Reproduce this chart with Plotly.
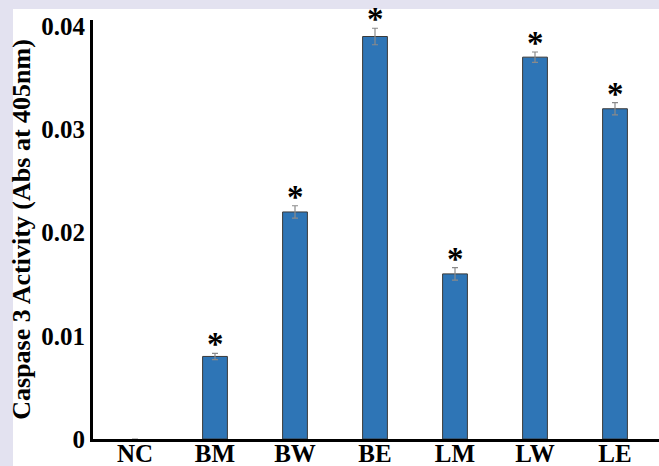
import plotly.graph_objects as go

# Caspase 3 activity per treatment group
groups = ["NC", "BM", "BW", "BE", "LM", "LW", "LE"]
activity = [0.0, 0.008, 0.022, 0.039, 0.016, 0.037, 0.032]
activity_err = [0.0, 0.0003, 0.0006, 0.0008, 0.0006, 0.0005, 0.0006]
significant = [False, True, True, True, True, True, True]
y_ticks = [0, 0.01, 0.02, 0.03, 0.04]
y_tick_text = ["0", "0.01", "0.02", "0.03", "0.04"]

FONT = "Liberation Serif"

fig = go.Figure()
fig.add_trace(go.Bar(
    x=groups,
    y=activity,
    width=0.31,
    marker=dict(color="#2e75b6",
                line=dict(color="#3a3a3a",
                          width=[1 if v > 0 else 0 for v in activity])),
    error_y=dict(type="data", array=activity_err, visible=True,
                 color="#8a8a8a", thickness=1.2, width=3),
    showlegend=False,
))

# significance markers above each error bar
for g, v, e, s in zip(groups, activity, activity_err, significant):
    if s:
        fig.add_annotation(x=g, y=v + e, text="<b>*</b>", showarrow=False,
                           xanchor="center", yanchor="bottom", yshift=-11,
                           font=dict(family=FONT, size=33, color="black"))

fig.update_layout(
    width=659, height=466,
    margin=dict(l=93, r=0, t=20, b=27),
    paper_bgcolor="#e3e2f0",
    plot_bgcolor="white",
    shapes=[dict(type="rect", xref="paper", yref="paper",
                 x0=-0.1413, x1=1.0, y0=-0.0644, y1=1.026,
                 fillcolor="white", line=dict(width=0), layer="below")],
    xaxis=dict(range=[-0.525, 6.55], showline=True, linecolor="black",
               linewidth=3, ticks="", showgrid=False, zeroline=False,
               automargin=False, ticklabelstandoff=-10,
               tickfont=dict(family=FONT, size=25, color="black"),
               tickprefix="<b>", ticksuffix="</b>"),
    yaxis=dict(range=[0, 0.0406], showline=True, linecolor="black",
               linewidth=3, ticks="", showgrid=False, zeroline=False,
               automargin=False,
               tickvals=y_ticks, ticktext=["<b>" + t + "</b>" for t in y_tick_text],
               tickfont=dict(family=FONT, size=25, color="black"),
               title=dict(text="<b>Caspase 3 Activity (Abs at 405nm)</b>",
                          font=dict(family=FONT, size=26, color="black"),
                          standoff=4)),
)

fig.write_html("out.html")
